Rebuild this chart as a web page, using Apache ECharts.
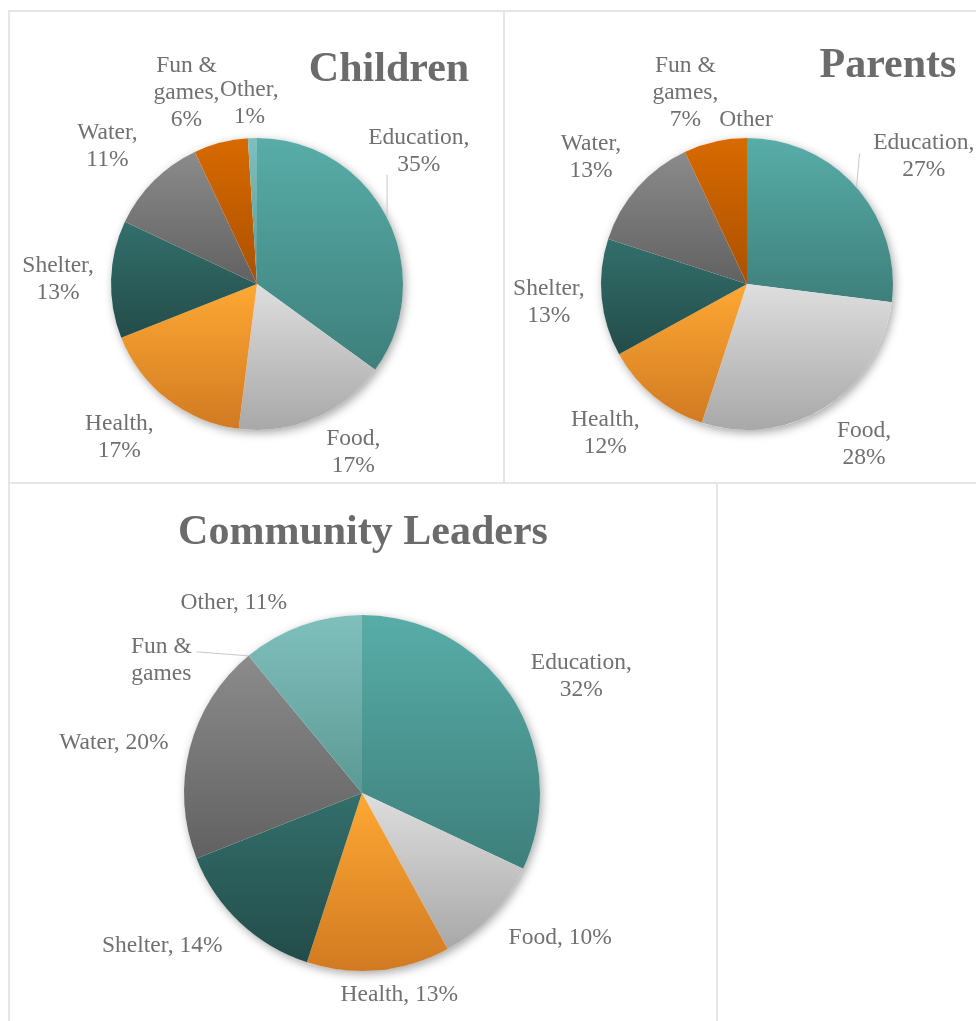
<!DOCTYPE html>
<html>
<head>
<meta charset="utf-8">
<title>Priorities</title>
<script src="https://cdn.jsdelivr.net/npm/echarts@6/dist/echarts.min.js"></script>
<style>
  html, body { margin: 0; padding: 0; background: #fff; }
  #main { width: 976px; height: 1021px; }
</style>
</head>
<body>
<div id="main"></div>
<script>
'use strict';

// data (percent of answers)
const categories = ['Education', 'Food', 'Health', 'Shelter', 'Water', 'Fun & games', 'Other'];
const childrenValues = [35, 17, 17, 13, 11, 6, 1];
const parentsValues = [27, 28, 12, 13, 13, 7, 0];
const leadersValues = [32, 10, 13, 14, 20, 0, 11];
const chartTitles = ['Children', 'Parents', 'Community Leaders'];

// slice colours, top -> bottom of the gradient
const sliceColors = [
    ['#58ada8', '#3e7f7b'],
    ['#dedede', '#a8a8a8'],
    ['#fea834', '#d17a22'],
    ['#336f6b', '#234c4a'],
    ['#8b8b8b', '#616161'],
    ['#d86a00', '#ab5000'],
    ['#80c0bc', '#5c9995']
];

const serif = '"Liberation Serif", "Times New Roman", serif';
const labelColor = '#707070';

// label placement: [labelLine length, dx, dy, leader]
const childrenLabels = [
    [58, -20, -40, 'below'], [46, 20, -8], [59, -12, -9], [53, 0, 2],
    [57, -6, 6], [57, -20, 5], [35, -2, 0]
];
const parentsLabels = [
    [71, 14, 16, 'left'], [52, 11, -7], [59, -11, -9], [49, -4, 0],
    [54, -6, 6], [54, -18, 4], [18, -1, 0]
];
const leadersLabels = [
    [70, 10, 16], [65, 21, -22], [27, 18, -2], [70, -30, -28],
    [75, -3, 13], [52, -54, 45, 'right'], [44, -53, 19]
];

function labelText(name, value, wrap) {
    const n = name.replace('Fun & games', 'Fun &\ngames');
    if (value === 0) return n;
    return n + ',' + (wrap ? '\n' : ' ') + value + '%';
}

function buildData(values, place, wrapNames) {
    return categories.map(function (name, i) {
        return {
            name: name,
            value: values[i],
            itemStyle: {
                color: new echarts.graphic.LinearGradient(0, 0, 0, 1, [
                    { offset: 0, color: sliceColors[i][0] },
                    { offset: 1, color: sliceColors[i][1] }
                ])
            },
            label: { formatter: labelText(name, values[i], wrapNames === true || wrapNames.indexOf(name) >= 0) },
            labelLine: { show: !!place[i][3], length: place[i][0], length2: 0 }
        };
    });
}

function makeLayout(place) {
    return function (p) {
        const t = place[p.dataIndex];
        const out = { align: 'center', verticalAlign: 'middle', dx: t[1], dy: t[2] };
        if (t[3] && p.labelLinePoints) {
            const r = p.labelRect;
            const x = r.x + (p.align === 'left' ? -r.width / 2 : p.align === 'right' ? r.width / 2 : 0) + t[1];
            const y = r.y + t[2];
            const e = p.labelLinePoints[0];
            if (t[3] === 'below') out.labelLinePoints = [e, [e[0], y + r.height - 4]];
            if (t[3] === 'left') out.labelLinePoints = [e, [e[0] + 3, y + r.height / 2 - 3]];
            if (t[3] === 'right') out.labelLinePoints = [e, [x + r.width + 5, e[1] - 4]];
        }
        return out;
    };
}

function shadowDisc(center, radius) {
    return {
        type: 'pie', silent: true, center: center, radius: radius, z: 1,
        label: { show: false }, labelLine: { show: false },
        itemStyle: { color: '#fff', shadowBlur: 10, shadowOffsetX: 2, shadowOffsetY: 3, shadowColor: 'rgba(0,0,0,0.35)' },
        data: [{ value: 1 }]
    };
}

function pieSeries(center, radius, values, place, wrapNames) {
    return {
        type: 'pie',
        center: center,
        radius: radius,
        startAngle: 90,
        clockwise: true,
        z: 2,
        silent: true,
        avoidLabelOverlap: false,
        label: {
            show: true,
            position: 'outside',
            distanceToLabelLine: 0,
            fontFamily: serif,
            fontSize: 23.5,
            lineHeight: 27,
            color: labelColor
        },
        labelLine: { lineStyle: { color: '#c9c9c9', width: 1 } },
        labelLayout: makeLayout(place),
        data: buildData(values, place, wrapNames)
    };
}

const chart = echarts.init(document.getElementById('main'));

const titleStyle = { fontFamily: serif, fontSize: 42, fontWeight: 'bold', color: '#6b6b6b' };
const frame = { type: 'rect', silent: true, style: { fill: 'none', stroke: '#e6e6e6', lineWidth: 2 } };

const option = {
    animation: false,
    backgroundColor: '#fff',
    title: [
        { text: chartTitles[0], left: 384, top: 44, textAlign: 'center', textStyle: titleStyle },
        { text: chartTitles[1], left: 883, top: 40, textAlign: 'center', textStyle: titleStyle },
        { text: chartTitles[2], left: 358, top: 507, textAlign: 'center', textStyle: titleStyle }
    ],
    graphic: [
        Object.assign({ shape: { x: 9, y: 11, width: 495, height: 472 } }, frame),
        Object.assign({ shape: { x: 504, y: 11, width: 480, height: 472 } }, frame),
        Object.assign({ shape: { x: 9, y: 483, width: 708, height: 550 } }, frame),
        Object.assign({ shape: { x: 717, y: 483, width: 270, height: 550 } }, frame)
    ],
    series: [
        shadowDisc([257, 284], 146),
        shadowDisc([747, 284], 146),
        shadowDisc([362, 793], 178),
        pieSeries([257, 284], 146, childrenValues, childrenLabels, true),
        pieSeries([747, 284], 146, parentsValues, parentsLabels, true),
        pieSeries([362, 793], 178, leadersValues, leadersLabels, ['Education'])
    ]
};

chart.setOption(option);
</script>
</body>
</html>
